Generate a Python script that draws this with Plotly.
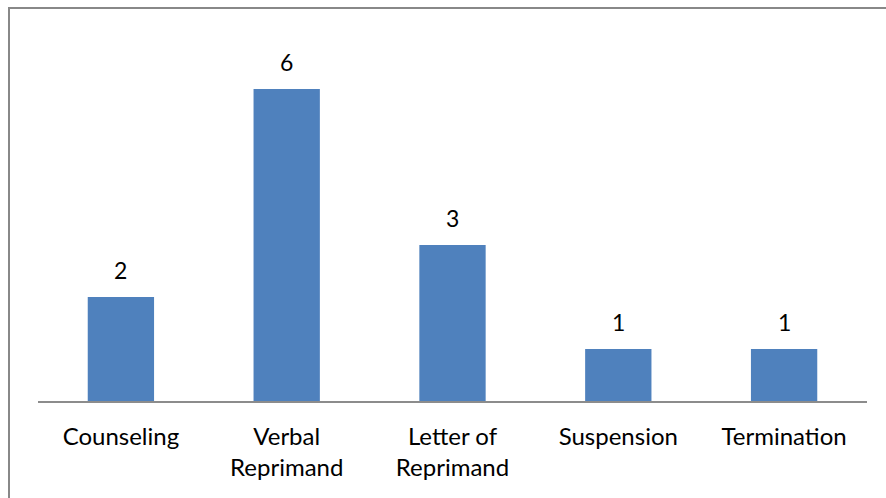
import plotly.graph_objects as go

categories = ["Counseling", "Verbal<br>Reprimand", "Letter of<br>Reprimand", "Suspension", "Termination"]
counts = [2, 6, 3, 1, 1]

W, H = 886, 498
L, R, T, B = 38, 19, 37, 97
plot_w = W - L - R
plot_h = H - T - B
FONT = "Lato"
FSIZE = 24


def px_x(px):
    return (px - L) / plot_w


def px_y(py):
    return (H - B - py) / plot_h


fig = go.Figure(
    go.Bar(
        x=categories,
        y=counts,
        marker=dict(color="#4F81BD", line=dict(width=0)),
        width=0.4,
        cliponaxis=False,
    )
)

# Value labels above each bar
for cat, val in zip(categories, counts):
    fig.add_annotation(
        x=cat, y=val, text=str(val), showarrow=False,
        yanchor="middle", yshift=27,
        font=dict(family=FONT, size=FSIZE - 1, color="#000000"),
    )

fig.update_layout(
    width=W,
    height=H,
    margin=dict(l=L, r=R, t=T, b=B),
    paper_bgcolor="white",
    plot_bgcolor="white",
    showlegend=False,
    font=dict(family=FONT, size=FSIZE, color="#000000"),
    xaxis=dict(
        showline=True,
        linecolor="#8c8c8c",
        linewidth=2,
        ticks="",
        ticklabelstandoff=13,
        showgrid=False,
        tickfont=dict(family=FONT, size=FSIZE, color="#000000"),
    ),
    yaxis=dict(
        range=[0, 7],
        visible=False,
        showgrid=False,
        zeroline=False,
    ),
    bargap=0.6,
)

# Chart frame: top and left edges
fig.add_shape(type="line", xref="paper", yref="paper",
              x0=px_x(9), x1=px_x(890), y0=px_y(8), y1=px_y(8),
              line=dict(color="#888888", width=2))
fig.add_shape(type="line", xref="paper", yref="paper",
              x0=px_x(9), x1=px_x(9), y0=px_y(7), y1=px_y(500),
              line=dict(color="#888888", width=2))

fig.write_html("out.html")
